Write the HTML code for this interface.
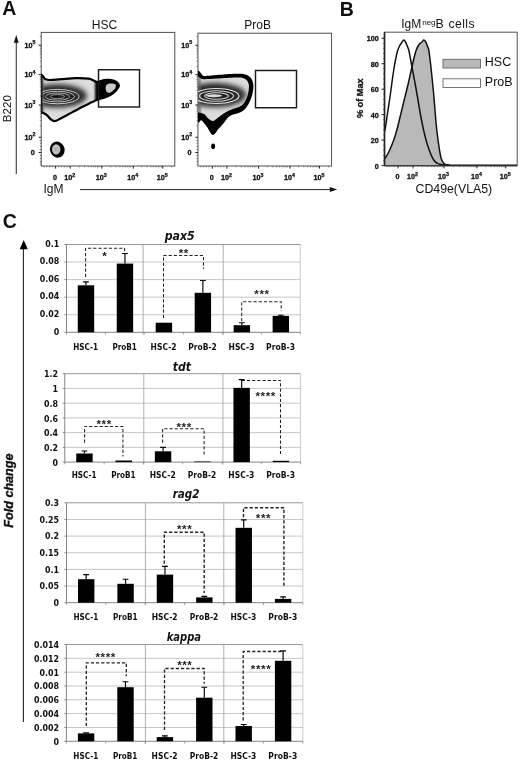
<!DOCTYPE html>
<html><head><meta charset="utf-8"><title>Figure</title>
<style>
html,body{margin:0;padding:0;background:#fff;}
svg{display:block;}
text{font-family:"Liberation Sans", Arial, sans-serif;fill:#111;}
.tk{font-family:"Liberation Sans", Arial, sans-serif;font-weight:bold;font-size:7.2px;fill:#111;stroke:#111;stroke-width:0.3px;}
.tks{font-family:"Liberation Sans", Arial, sans-serif;font-weight:bold;font-size:5.3px;fill:#111;stroke:#111;stroke-width:0.25px;}
.bl{font-family:"DejaVu Sans Condensed", "DejaVu Sans", "Liberation Sans", sans-serif;font-stretch:condensed;font-weight:bold;font-size:8.8px;fill:#111;}
.bt{font-family:"DejaVu Sans Condensed", "DejaVu Sans", "Liberation Sans", sans-serif;font-stretch:condensed;font-weight:bold;font-style:italic;font-size:12.3px;fill:#111;}
.st{font-family:"Liberation Sans", Arial, sans-serif;font-weight:bold;font-size:11.6px;fill:#222;letter-spacing:0.6px;}
</style></head><body>
<svg width="520" height="760" viewBox="0 0 520 760">
<defs>
<filter id="b4" x="-50%" y="-50%" width="200%" height="200%"><feGaussianBlur stdDeviation="3.2"/></filter>
<filter id="b3" x="-50%" y="-50%" width="200%" height="200%"><feGaussianBlur stdDeviation="2.5"/></filter>
<filter id="b2" x="-50%" y="-50%" width="200%" height="200%"><feGaussianBlur stdDeviation="1.6"/></filter>
<filter id="b1" x="-50%" y="-50%" width="200%" height="200%"><feGaussianBlur stdDeviation="0.8"/></filter>
<filter id="soft" x="-5%" y="-5%" width="110%" height="110%"><feGaussianBlur stdDeviation="0.35"/></filter>
</defs>
<rect width="520" height="760" fill="#fff"/>

<text x="2.2" y="14.6" font-size="19.5" font-weight="bold">A</text>
<text x="339.8" y="16.3" font-size="19.5" font-weight="bold">B</text>
<text x="2.8" y="228.2" font-size="19.5" font-weight="bold">C</text>
<text x="104.4" y="28.7" font-size="12" text-anchor="middle">HSC</text>
<text x="257.6" y="29.4" font-size="12" text-anchor="middle">ProB</text>
<g><rect x="41.20" y="32.40" width="133.60" height="133.60" fill="none" stroke="#505050" stroke-width="1"/><line x1="38.60" y1="45.25" x2="41.20" y2="45.25" stroke="#222" stroke-width="1"/><text class="tk" x="30.00" y="47.75" text-anchor="middle">10<tspan class="tks" dy="-3.6">5</tspan></text><line x1="38.60" y1="74.60" x2="41.20" y2="74.60" stroke="#222" stroke-width="1"/><text class="tk" x="30.00" y="77.10" text-anchor="middle">10<tspan class="tks" dy="-3.6">4</tspan></text><line x1="38.60" y1="105.00" x2="41.20" y2="105.00" stroke="#222" stroke-width="1"/><text class="tk" x="30.00" y="107.50" text-anchor="middle">10<tspan class="tks" dy="-3.6">3</tspan></text><line x1="38.60" y1="137.30" x2="41.20" y2="137.30" stroke="#222" stroke-width="1"/><text class="tk" x="30.00" y="139.80" text-anchor="middle">10<tspan class="tks" dy="-3.6">2</tspan></text><line x1="38.60" y1="152.50" x2="41.20" y2="152.50" stroke="#222" stroke-width="1"/><text class="tk" x="32.80" y="155.00" text-anchor="middle">0</text><path d="M39.80,66.47h1.4M39.80,61.19h1.4M39.80,57.44h1.4M39.80,54.53h1.4M39.80,52.16h1.4M39.80,50.15h1.4M39.80,48.41h1.4M39.80,46.87h1.4M39.80,95.97h1.4M39.80,90.69h1.4M39.80,86.94h1.4M39.80,84.03h1.4M39.80,81.66h1.4M39.80,79.65h1.4M39.80,77.91h1.4M39.80,76.37h1.4M39.80,125.97h1.4M39.80,120.69h1.4M39.80,116.94h1.4M39.80,114.03h1.4M39.80,111.66h1.4M39.80,109.65h1.4M39.80,107.91h1.4M39.80,106.37h1.4M39.80,36.47h1.4M39.80,140.50h1.4M39.80,143.50h1.4M39.80,146.50h1.4M39.80,149.50h1.4M39.80,155.50h1.4M39.80,158.50h1.4M39.80,161.50h1.4M39.80,164.00h1.4" stroke="#555" stroke-width="0.7" fill="none"/><line x1="55.60" y1="166.00" x2="55.60" y2="168.60" stroke="#222" stroke-width="1"/><text class="tk" x="55.10" y="180.30" text-anchor="middle">0</text><line x1="70.20" y1="166.00" x2="70.20" y2="168.60" stroke="#222" stroke-width="1"/><text class="tk" x="69.70" y="180.30" text-anchor="middle">10<tspan class="tks" dy="-3.6">2</tspan></text><line x1="101.80" y1="166.00" x2="101.80" y2="168.60" stroke="#222" stroke-width="1"/><text class="tk" x="101.30" y="180.30" text-anchor="middle">10<tspan class="tks" dy="-3.6">3</tspan></text><line x1="133.30" y1="166.00" x2="133.30" y2="168.60" stroke="#222" stroke-width="1"/><text class="tk" x="132.80" y="180.30" text-anchor="middle">10<tspan class="tks" dy="-3.6">4</tspan></text><line x1="162.80" y1="166.00" x2="162.80" y2="168.60" stroke="#222" stroke-width="1"/><text class="tk" x="162.30" y="180.30" text-anchor="middle">10<tspan class="tks" dy="-3.6">5</tspan></text><path d="M79.18,166.00v1.4M84.55,166.00v1.4M88.36,166.00v1.4M91.32,166.00v1.4M93.73,166.00v1.4M95.78,166.00v1.4M97.54,166.00v1.4M99.10,166.00v1.4M110.68,166.00v1.4M116.05,166.00v1.4M119.86,166.00v1.4M122.82,166.00v1.4M125.23,166.00v1.4M127.28,166.00v1.4M129.04,166.00v1.4M130.60,166.00v1.4M141.68,166.00v1.4M147.05,166.00v1.4M150.86,166.00v1.4M153.82,166.00v1.4M156.23,166.00v1.4M158.28,166.00v1.4M160.04,166.00v1.4M161.60,166.00v1.4M44.00,166.00v1.4M46.80,166.00v1.4M49.60,166.00v1.4M52.40,166.00v1.4M58.50,166.00v1.4M61.40,166.00v1.4M64.30,166.00v1.4M67.20,166.00v1.4M171.83,166.00v1.4" stroke="#555" stroke-width="0.7" fill="none"/></g>
<g><rect x="197.95" y="33.20" width="133.60" height="132.80" fill="none" stroke="#505050" stroke-width="1"/><line x1="195.35" y1="45.25" x2="197.95" y2="45.25" stroke="#222" stroke-width="1"/><text class="tk" x="186.75" y="47.75" text-anchor="middle">10<tspan class="tks" dy="-3.6">5</tspan></text><line x1="195.35" y1="74.60" x2="197.95" y2="74.60" stroke="#222" stroke-width="1"/><text class="tk" x="186.75" y="77.10" text-anchor="middle">10<tspan class="tks" dy="-3.6">4</tspan></text><line x1="195.35" y1="105.00" x2="197.95" y2="105.00" stroke="#222" stroke-width="1"/><text class="tk" x="186.75" y="107.50" text-anchor="middle">10<tspan class="tks" dy="-3.6">3</tspan></text><line x1="195.35" y1="137.30" x2="197.95" y2="137.30" stroke="#222" stroke-width="1"/><text class="tk" x="186.75" y="139.80" text-anchor="middle">10<tspan class="tks" dy="-3.6">2</tspan></text><line x1="195.35" y1="152.50" x2="197.95" y2="152.50" stroke="#222" stroke-width="1"/><text class="tk" x="189.55" y="155.00" text-anchor="middle">0</text><path d="M196.55,66.47h1.4M196.55,61.19h1.4M196.55,57.44h1.4M196.55,54.53h1.4M196.55,52.16h1.4M196.55,50.15h1.4M196.55,48.41h1.4M196.55,46.87h1.4M196.55,95.97h1.4M196.55,90.69h1.4M196.55,86.94h1.4M196.55,84.03h1.4M196.55,81.66h1.4M196.55,79.65h1.4M196.55,77.91h1.4M196.55,76.37h1.4M196.55,125.97h1.4M196.55,120.69h1.4M196.55,116.94h1.4M196.55,114.03h1.4M196.55,111.66h1.4M196.55,109.65h1.4M196.55,107.91h1.4M196.55,106.37h1.4M196.55,36.47h1.4M196.55,140.50h1.4M196.55,143.50h1.4M196.55,146.50h1.4M196.55,149.50h1.4M196.55,155.50h1.4M196.55,158.50h1.4M196.55,161.50h1.4M196.55,164.00h1.4" stroke="#555" stroke-width="0.7" fill="none"/><line x1="212.35" y1="166.00" x2="212.35" y2="168.60" stroke="#222" stroke-width="1"/><text class="tk" x="211.85" y="180.30" text-anchor="middle">0</text><line x1="226.95" y1="166.00" x2="226.95" y2="168.60" stroke="#222" stroke-width="1"/><text class="tk" x="226.45" y="180.30" text-anchor="middle">10<tspan class="tks" dy="-3.6">2</tspan></text><line x1="258.55" y1="166.00" x2="258.55" y2="168.60" stroke="#222" stroke-width="1"/><text class="tk" x="258.05" y="180.30" text-anchor="middle">10<tspan class="tks" dy="-3.6">3</tspan></text><line x1="290.05" y1="166.00" x2="290.05" y2="168.60" stroke="#222" stroke-width="1"/><text class="tk" x="289.55" y="180.30" text-anchor="middle">10<tspan class="tks" dy="-3.6">4</tspan></text><line x1="319.55" y1="166.00" x2="319.55" y2="168.60" stroke="#222" stroke-width="1"/><text class="tk" x="319.05" y="180.30" text-anchor="middle">10<tspan class="tks" dy="-3.6">5</tspan></text><path d="M235.93,166.00v1.4M241.30,166.00v1.4M245.11,166.00v1.4M248.07,166.00v1.4M250.48,166.00v1.4M252.53,166.00v1.4M254.29,166.00v1.4M255.85,166.00v1.4M267.43,166.00v1.4M272.80,166.00v1.4M276.61,166.00v1.4M279.57,166.00v1.4M281.98,166.00v1.4M284.03,166.00v1.4M285.79,166.00v1.4M287.35,166.00v1.4M298.43,166.00v1.4M303.80,166.00v1.4M307.61,166.00v1.4M310.57,166.00v1.4M312.98,166.00v1.4M315.03,166.00v1.4M316.79,166.00v1.4M318.35,166.00v1.4M200.75,166.00v1.4M203.55,166.00v1.4M206.35,166.00v1.4M209.15,166.00v1.4M215.25,166.00v1.4M218.15,166.00v1.4M221.05,166.00v1.4M223.95,166.00v1.4M328.58,166.00v1.4" stroke="#555" stroke-width="0.7" fill="none"/></g>
<text transform="translate(10.8,108.7) rotate(-90)" font-size="11.6" text-anchor="middle">B220</text>
<line x1="16.25" y1="174" x2="16.25" y2="41" stroke="#222" stroke-width="1"/>
<path d="M16.25,35 L18.7,42.8 L13.8,42.8Z" fill="#111"/>
<text x="43.4" y="193.4" font-size="12">IgM</text>
<line x1="80" y1="189.6" x2="331" y2="189.6" stroke="#222" stroke-width="1"/>
<path d="M337.2,189.6 L329.8,187.1 L329.8,192.1Z" fill="#111"/>
<clipPath id="cpH"><path d="M41.30,74.60C41.62,74.93 42.48,75.82 43.20,76.60C43.92,77.38 44.47,78.73 45.60,79.30C46.73,79.87 47.43,80.02 50.00,80.00C52.57,79.98 56.67,79.52 61.00,79.20C65.33,78.88 71.42,78.20 76.00,78.10C80.58,78.00 85.67,78.25 88.50,78.60C91.33,78.95 91.67,79.67 93.00,80.20C94.33,80.73 95.33,81.62 96.50,81.80C97.67,81.98 98.75,81.57 100.00,81.30C101.25,81.03 102.83,80.43 104.00,80.20C105.17,79.97 105.83,79.93 107.00,79.90C108.17,79.87 109.73,79.83 111.00,80.00C112.27,80.17 113.50,80.40 114.60,80.90C115.70,81.40 116.90,82.28 117.60,83.00C118.30,83.72 118.70,84.43 118.80,85.20C118.90,85.97 118.67,86.73 118.20,87.60C117.73,88.47 116.87,89.48 116.00,90.40C115.13,91.32 113.90,92.37 113.00,93.10C112.10,93.83 111.60,94.23 110.60,94.80C109.60,95.37 108.10,96.02 107.00,96.50C105.90,96.98 105.08,97.33 104.00,97.70C102.92,98.07 101.58,98.37 100.50,98.70C99.42,99.03 98.58,99.28 97.50,99.70C96.42,100.12 95.08,100.72 94.00,101.20C92.92,101.68 93.38,101.43 91.00,102.60C88.62,103.77 83.71,106.13 79.75,108.20C75.79,110.27 70.38,113.33 67.25,115.00C64.12,116.67 63.08,117.17 61.00,118.20C58.92,119.23 56.48,121.03 54.75,121.20C53.02,121.37 51.83,120.13 50.60,119.20C49.38,118.27 48.50,116.60 47.40,115.60C46.30,114.60 45.02,113.70 44.00,113.20C42.98,112.70 41.75,112.70 41.30,112.60Z"/></clipPath>
<clipPath id="cpA1"><rect x="41.2" y="32" width="133.75" height="134"/></clipPath>
<g clip-path="url(#cpA1)">
<path d="M41.30,74.60C41.62,74.93 42.48,75.82 43.20,76.60C43.92,77.38 44.47,78.73 45.60,79.30C46.73,79.87 47.43,80.02 50.00,80.00C52.57,79.98 56.67,79.52 61.00,79.20C65.33,78.88 71.42,78.20 76.00,78.10C80.58,78.00 85.67,78.25 88.50,78.60C91.33,78.95 91.67,79.67 93.00,80.20C94.33,80.73 95.33,81.62 96.50,81.80C97.67,81.98 98.75,81.57 100.00,81.30C101.25,81.03 102.83,80.43 104.00,80.20C105.17,79.97 105.83,79.93 107.00,79.90C108.17,79.87 109.73,79.83 111.00,80.00C112.27,80.17 113.50,80.40 114.60,80.90C115.70,81.40 116.90,82.28 117.60,83.00C118.30,83.72 118.70,84.43 118.80,85.20C118.90,85.97 118.67,86.73 118.20,87.60C117.73,88.47 116.87,89.48 116.00,90.40C115.13,91.32 113.90,92.37 113.00,93.10C112.10,93.83 111.60,94.23 110.60,94.80C109.60,95.37 108.10,96.02 107.00,96.50C105.90,96.98 105.08,97.33 104.00,97.70C102.92,98.07 101.58,98.37 100.50,98.70C99.42,99.03 98.58,99.28 97.50,99.70C96.42,100.12 95.08,100.72 94.00,101.20C92.92,101.68 93.38,101.43 91.00,102.60C88.62,103.77 83.71,106.13 79.75,108.20C75.79,110.27 70.38,113.33 67.25,115.00C64.12,116.67 63.08,117.17 61.00,118.20C58.92,119.23 56.48,121.03 54.75,121.20C53.02,121.37 51.83,120.13 50.60,119.20C49.38,118.27 48.50,116.60 47.40,115.60C46.30,114.60 45.02,113.70 44.00,113.20C42.98,112.70 41.75,112.70 41.30,112.60Z" fill="#dcdcdc"/>
<g clip-path="url(#cpH)">
<ellipse cx="57" cy="95.8" rx="30" ry="11.8" fill="#2e2e2e" filter="url(#b3)"/>
<ellipse cx="55" cy="96" rx="20" ry="7" fill="#222" filter="url(#b2)"/>
<path d="M95,70 H125 V110 H95Z" fill="#000" filter="url(#b1)"/>
<path d="M41,72 L41,116 L43.5,116 L43.5,72Z" fill="#666" filter="url(#b1)"/>
<ellipse cx="57.5" cy="96.6" rx="21.5" ry="7.2" fill="none" stroke="#d6d6d6" stroke-width="0.95"/>
<ellipse cx="57.5" cy="96.6" rx="17.0" ry="5.3" fill="none" stroke="#c2c2c2" stroke-width="0.95"/>
<ellipse cx="57.5" cy="96.6" rx="12.0" ry="3.6" fill="none" stroke="#b0b0b0" stroke-width="0.95"/>
<ellipse cx="57.5" cy="96.6" rx="7.0" ry="2.1" fill="none" stroke="#a0a0a0" stroke-width="0.95"/>
<ellipse cx="55" cy="96.6" rx="3" ry="0.9" fill="#111"/>
<path d="M106.50,85.00C106.97,84.45 107.58,83.97 108.50,83.70C109.42,83.43 110.92,83.33 112.00,83.40C113.08,83.47 114.35,83.70 115.00,84.10C115.65,84.50 115.85,85.15 115.90,85.80C115.95,86.45 115.70,87.25 115.30,88.00C114.90,88.75 114.22,89.60 113.50,90.30C112.78,91.00 111.83,91.78 111.00,92.20C110.17,92.62 109.25,92.87 108.50,92.80C107.75,92.73 106.95,92.33 106.50,91.80C106.05,91.27 105.93,90.40 105.80,89.60C105.67,88.80 105.58,87.77 105.70,87.00C105.82,86.23 106.03,85.55 106.50,85.00Z" fill="#c9c9c9" filter="url(#soft)"/>
</g>
<path d="M41.30,74.60C41.62,74.93 42.48,75.82 43.20,76.60C43.92,77.38 44.47,78.73 45.60,79.30C46.73,79.87 47.43,80.02 50.00,80.00C52.57,79.98 56.67,79.52 61.00,79.20C65.33,78.88 71.42,78.20 76.00,78.10C80.58,78.00 85.67,78.25 88.50,78.60C91.33,78.95 91.67,79.67 93.00,80.20C94.33,80.73 95.33,81.62 96.50,81.80C97.67,81.98 98.75,81.57 100.00,81.30C101.25,81.03 102.83,80.43 104.00,80.20C105.17,79.97 105.83,79.93 107.00,79.90C108.17,79.87 109.73,79.83 111.00,80.00C112.27,80.17 113.50,80.40 114.60,80.90C115.70,81.40 116.90,82.28 117.60,83.00C118.30,83.72 118.70,84.43 118.80,85.20C118.90,85.97 118.67,86.73 118.20,87.60C117.73,88.47 116.87,89.48 116.00,90.40C115.13,91.32 113.90,92.37 113.00,93.10C112.10,93.83 111.60,94.23 110.60,94.80C109.60,95.37 108.10,96.02 107.00,96.50C105.90,96.98 105.08,97.33 104.00,97.70C102.92,98.07 101.58,98.37 100.50,98.70C99.42,99.03 98.58,99.28 97.50,99.70C96.42,100.12 95.08,100.72 94.00,101.20C92.92,101.68 93.38,101.43 91.00,102.60C88.62,103.77 83.71,106.13 79.75,108.20C75.79,110.27 70.38,113.33 67.25,115.00C64.12,116.67 63.08,117.17 61.00,118.20C58.92,119.23 56.48,121.03 54.75,121.20C53.02,121.37 51.83,120.13 50.60,119.20C49.38,118.27 48.50,116.60 47.40,115.60C46.30,114.60 45.02,113.70 44.00,113.20C42.98,112.70 41.75,112.70 41.30,112.60Z" fill="none" stroke="#000" stroke-width="2.2" stroke-linejoin="round"/>
<ellipse cx="57.3" cy="149.6" rx="7.3" ry="8.1" fill="#000" transform="rotate(-20 57.3 149.6)"/>
<ellipse cx="56.2" cy="149.4" rx="4.2" ry="5.2" fill="#c4c4c4" filter="url(#soft)"/>
<ellipse cx="56" cy="149.4" rx="2" ry="2.6" fill="#aaa" filter="url(#b1)"/>
</g>
<rect x="98.5" y="69.75" width="41" height="37.25" fill="none" stroke="#1a1a1a" stroke-width="1.45"/>
<clipPath id="cpP"><path d="M197.50,76.00C197.92,76.33 198.92,77.47 200.00,78.00C201.08,78.53 201.17,79.10 204.00,79.20C206.83,79.30 211.71,78.87 217.00,78.60C222.29,78.33 231.42,77.70 235.75,77.60C240.08,77.50 241.12,77.50 243.00,78.00C244.88,78.50 246.02,79.35 247.00,80.60C247.98,81.85 248.70,83.43 248.90,85.50C249.10,87.57 248.77,90.50 248.20,93.00C247.63,95.50 246.62,98.42 245.50,100.50C244.38,102.58 243.12,104.25 241.50,105.50C239.88,106.75 237.75,107.22 235.75,108.00C233.75,108.78 231.58,109.23 229.50,110.20C227.42,111.17 225.12,112.57 223.25,113.80C221.38,115.03 219.92,116.40 218.25,117.60C216.58,118.80 214.92,120.85 213.25,121.00C211.58,121.15 209.71,119.63 208.25,118.50C206.79,117.37 205.96,115.22 204.50,114.20C203.04,113.18 200.67,112.73 199.50,112.40C198.33,112.07 197.83,112.23 197.50,112.20Z"/></clipPath>
<clipPath id="cpA2"><rect x="198" y="32" width="133.75" height="133.5"/></clipPath>
<g clip-path="url(#cpA2)">
<path d="M197.50,70.60C197.85,70.73 198.93,70.83 199.60,71.40C200.27,71.97 200.83,73.23 201.50,74.00C202.17,74.77 202.52,75.70 203.60,76.00C204.68,76.30 205.77,75.97 208.00,75.80C210.23,75.63 212.38,75.33 217.00,75.00C221.62,74.67 231.17,73.93 235.75,73.80C240.33,73.67 242.03,73.57 244.50,74.20C246.97,74.83 249.13,75.84 250.60,77.60C252.07,79.36 253.03,81.89 253.30,84.75C253.57,87.61 253.08,91.38 252.20,94.75C251.32,98.12 249.53,102.33 248.00,105.00C246.47,107.67 244.58,109.47 243.00,110.80C241.42,112.13 240.75,112.10 238.50,113.00C236.25,113.90 232.02,114.47 229.50,116.20C226.98,117.93 225.25,121.27 223.40,123.40C221.55,125.53 220.17,127.07 218.40,129.00C216.63,130.93 214.67,135.30 212.80,135.00C210.93,134.70 209.07,129.63 207.20,127.20C205.33,124.77 202.87,121.30 201.60,120.40C200.33,119.50 200.28,121.30 199.60,121.80C198.92,122.30 197.85,123.13 197.50,123.40Z" fill="#000"/>
<path d="M197.50,76.00C197.92,76.33 198.92,77.47 200.00,78.00C201.08,78.53 201.17,79.10 204.00,79.20C206.83,79.30 211.71,78.87 217.00,78.60C222.29,78.33 231.42,77.70 235.75,77.60C240.08,77.50 241.12,77.50 243.00,78.00C244.88,78.50 246.02,79.35 247.00,80.60C247.98,81.85 248.70,83.43 248.90,85.50C249.10,87.57 248.77,90.50 248.20,93.00C247.63,95.50 246.62,98.42 245.50,100.50C244.38,102.58 243.12,104.25 241.50,105.50C239.88,106.75 237.75,107.22 235.75,108.00C233.75,108.78 231.58,109.23 229.50,110.20C227.42,111.17 225.12,112.57 223.25,113.80C221.38,115.03 219.92,116.40 218.25,117.60C216.58,118.80 214.92,120.85 213.25,121.00C211.58,121.15 209.71,119.63 208.25,118.50C206.79,117.37 205.96,115.22 204.50,114.20C203.04,113.18 200.67,112.73 199.50,112.40C198.33,112.07 197.83,112.23 197.50,112.20Z" fill="#dcdcdc"/>
<g clip-path="url(#cpP)">
<ellipse cx="215" cy="95" rx="31" ry="12.2" fill="#2e2e2e" filter="url(#b3)"/>
<ellipse cx="213" cy="95" rx="21" ry="7.5" fill="#222" filter="url(#b2)"/>
<path d="M198,72 L198,116 L200.5,116 L200.5,72Z" fill="#666" filter="url(#b1)"/>
<ellipse cx="216.5" cy="96" rx="22.5" ry="7.5" fill="none" stroke="#e4e4e4" stroke-width="1.1"/>
<ellipse cx="216.5" cy="96" rx="17.0" ry="5.2" fill="none" stroke="#d6d6d6" stroke-width="1.1"/>
<ellipse cx="216.5" cy="96" rx="12.0" ry="3.3" fill="none" stroke="#cfcfcf" stroke-width="1.1"/>
<ellipse cx="214" cy="95.8" rx="8" ry="1.5" fill="#ddd" filter="url(#soft)"/>
</g>
<ellipse cx="213.1" cy="146.2" rx="2" ry="2.8" fill="#000"/>
</g>
<rect x="255.5" y="70.5" width="41" height="37.25" fill="none" stroke="#1a1a1a" stroke-width="1.45"/>
<text x="401.2" y="28.2" font-size="12">IgM<tspan x="422.2" font-size="8" dy="-3.1">neg</tspan><tspan x="435.6" dy="3.1" font-size="12.2" word-spacing="0.6" letter-spacing="0.4">B cells</tspan></text>
<clipPath id="cpB"><rect x="384.50" y="32.20" width="132.70" height="133.60"/></clipPath>
<g clip-path="url(#cpB)">
<path d="M384.80,158.80C385.50,157.58 387.51,154.63 389.00,151.50C390.49,148.37 392.42,143.67 393.75,140.00C395.08,136.33 395.96,133.30 397.00,129.50C398.04,125.70 399.00,121.28 400.00,117.20C401.00,113.12 402.03,108.95 403.00,105.00C403.97,101.05 404.87,97.33 405.80,93.50C406.73,89.67 407.69,85.92 408.60,82.00C409.51,78.08 410.35,74.00 411.25,70.00C412.15,66.00 413.17,61.33 414.00,58.00C414.83,54.67 415.42,52.25 416.25,50.00C417.08,47.75 418.12,45.75 419.00,44.50C419.88,43.25 420.71,43.25 421.50,42.50C422.29,41.75 423.08,40.17 423.75,40.00C424.42,39.83 424.96,40.67 425.50,41.50C426.04,42.33 426.46,43.58 427.00,45.00C427.54,46.42 428.25,47.67 428.75,50.00C429.25,52.33 429.58,55.67 430.00,59.00C430.42,62.33 430.83,66.17 431.25,70.00C431.67,73.83 432.08,77.83 432.50,82.00C432.92,86.17 433.33,90.33 433.75,95.00C434.17,99.67 434.58,105.00 435.00,110.00C435.42,115.00 435.83,120.67 436.25,125.00C436.67,129.33 437.08,132.67 437.50,136.00C437.92,139.33 438.33,142.17 438.75,145.00C439.17,147.83 439.58,150.71 440.00,153.00C440.42,155.29 440.67,157.08 441.25,158.75C441.83,160.42 442.67,161.99 443.50,163.00C444.33,164.01 444.83,164.43 446.25,164.80C447.67,165.17 448.04,165.12 452.00,165.20C455.96,165.28 459.17,165.28 470.00,165.30C480.83,165.32 509.17,165.30 517.00,165.30 L517,165.8 L384.8,165.8 Z" fill="#b9b9b9"/>
<path d="M384.80,158.80C385.50,157.58 387.51,154.63 389.00,151.50C390.49,148.37 392.42,143.67 393.75,140.00C395.08,136.33 395.96,133.30 397.00,129.50C398.04,125.70 399.00,121.28 400.00,117.20C401.00,113.12 402.03,108.95 403.00,105.00C403.97,101.05 404.87,97.33 405.80,93.50C406.73,89.67 407.69,85.92 408.60,82.00C409.51,78.08 410.35,74.00 411.25,70.00C412.15,66.00 413.17,61.33 414.00,58.00C414.83,54.67 415.42,52.25 416.25,50.00C417.08,47.75 418.12,45.75 419.00,44.50C419.88,43.25 420.71,43.25 421.50,42.50C422.29,41.75 423.08,40.17 423.75,40.00C424.42,39.83 424.96,40.67 425.50,41.50C426.04,42.33 426.46,43.58 427.00,45.00C427.54,46.42 428.25,47.67 428.75,50.00C429.25,52.33 429.58,55.67 430.00,59.00C430.42,62.33 430.83,66.17 431.25,70.00C431.67,73.83 432.08,77.83 432.50,82.00C432.92,86.17 433.33,90.33 433.75,95.00C434.17,99.67 434.58,105.00 435.00,110.00C435.42,115.00 435.83,120.67 436.25,125.00C436.67,129.33 437.08,132.67 437.50,136.00C437.92,139.33 438.33,142.17 438.75,145.00C439.17,147.83 439.58,150.71 440.00,153.00C440.42,155.29 440.67,157.08 441.25,158.75C441.83,160.42 442.67,161.99 443.50,163.00C444.33,164.01 444.83,164.43 446.25,164.80C447.67,165.17 448.04,165.12 452.00,165.20C455.96,165.28 459.17,165.28 470.00,165.30C480.83,165.32 509.17,165.30 517.00,165.30" fill="none" stroke="#111" stroke-width="1.5"/>
<path d="M384.80,131.00C385.00,129.83 385.47,127.50 386.00,124.00C386.53,120.50 387.33,114.50 388.00,110.00C388.67,105.50 389.33,101.67 390.00,97.00C390.67,92.33 391.38,86.50 392.00,82.00C392.62,77.50 393.17,73.67 393.75,70.00C394.33,66.33 394.88,63.17 395.50,60.00C396.12,56.83 396.83,53.33 397.50,51.00C398.17,48.67 398.83,47.33 399.50,46.00C400.17,44.67 400.79,44.00 401.50,43.00C402.21,42.00 403.08,40.17 403.75,40.00C404.42,39.83 404.96,41.08 405.50,42.00C406.04,42.92 406.46,44.17 407.00,45.50C407.54,46.83 408.17,47.75 408.75,50.00C409.33,52.25 409.88,55.67 410.50,59.00C411.12,62.33 411.75,66.00 412.50,70.00C413.25,74.00 414.17,78.50 415.00,83.00C415.83,87.50 416.67,92.17 417.50,97.00C418.33,101.83 419.17,107.33 420.00,112.00C420.83,116.67 421.67,121.00 422.50,125.00C423.33,129.00 424.17,132.67 425.00,136.00C425.83,139.33 426.58,142.08 427.50,145.00C428.42,147.92 429.46,151.00 430.50,153.50C431.54,156.00 432.67,158.38 433.75,160.00C434.83,161.62 435.54,162.40 437.00,163.20C438.46,164.00 440.33,164.47 442.50,164.80C444.67,165.13 448.75,165.13 450.00,165.20" fill="none" stroke="#111" stroke-width="1.5"/>
</g>
<rect x="384.50" y="32.20" width="132.70" height="133.60" fill="none" stroke="#555" stroke-width="1"/>
<path d="M384.50,32.20V165.80" fill="none" stroke="#222" stroke-width="1.7"/>
<path d="M384.50,165.80H517.20" fill="none" stroke="#222" stroke-width="1.1"/>
<line x1="381.50" y1="38.25" x2="384.50" y2="38.25" stroke="#222" stroke-width="1"/>
<text class="tk" x="378.80" y="41.25" text-anchor="end">100</text>
<line x1="381.50" y1="63.70" x2="384.50" y2="63.70" stroke="#222" stroke-width="1"/>
<text class="tk" x="378.80" y="66.70" text-anchor="end">80</text>
<line x1="381.50" y1="89.15" x2="384.50" y2="89.15" stroke="#222" stroke-width="1"/>
<text class="tk" x="378.80" y="92.15" text-anchor="end">60</text>
<line x1="381.50" y1="114.60" x2="384.50" y2="114.60" stroke="#222" stroke-width="1"/>
<text class="tk" x="378.80" y="117.60" text-anchor="end">40</text>
<line x1="381.50" y1="140.05" x2="384.50" y2="140.05" stroke="#222" stroke-width="1"/>
<text class="tk" x="378.80" y="143.05" text-anchor="end">20</text>
<line x1="381.50" y1="165.50" x2="384.50" y2="165.50" stroke="#222" stroke-width="1"/>
<text class="tk" x="378.80" y="168.50" text-anchor="end">0</text>
<path d="M383.00,38.25h1.5M383.00,43.34h1.5M383.00,48.43h1.5M383.00,53.52h1.5M383.00,58.61h1.5M383.00,63.70h1.5M383.00,68.79h1.5M383.00,73.88h1.5M383.00,78.97h1.5M383.00,84.06h1.5M383.00,89.15h1.5M383.00,94.24h1.5M383.00,99.33h1.5M383.00,104.42h1.5M383.00,109.51h1.5M383.00,114.60h1.5M383.00,119.69h1.5M383.00,124.78h1.5M383.00,129.87h1.5M383.00,134.96h1.5M383.00,140.05h1.5M383.00,145.14h1.5M383.00,150.23h1.5M383.00,155.32h1.5M383.00,160.41h1.5M383.00,165.50h1.5" stroke="#444" stroke-width="0.7" fill="none"/>
<text class="tk" transform="translate(362.6,98.2) rotate(-90)" text-anchor="middle" style="font-size:9.2px">% of Max</text>
<line x1="398.00" y1="165.80" x2="398.00" y2="168.40" stroke="#222" stroke-width="1"/>
<text class="tk" x="397.50" y="179.20" text-anchor="middle">0</text>
<line x1="413.00" y1="165.80" x2="413.00" y2="168.40" stroke="#222" stroke-width="1"/>
<text class="tk" x="412.50" y="179.20" text-anchor="middle">10<tspan class="tks" dy="-3.6">2</tspan></text>
<line x1="444.00" y1="165.80" x2="444.00" y2="168.40" stroke="#222" stroke-width="1"/>
<text class="tk" x="443.50" y="179.20" text-anchor="middle">10<tspan class="tks" dy="-3.6">3</tspan></text>
<line x1="477.00" y1="165.80" x2="477.00" y2="168.40" stroke="#222" stroke-width="1"/>
<text class="tk" x="476.50" y="179.20" text-anchor="middle">10<tspan class="tks" dy="-3.6">4</tspan></text>
<line x1="505.80" y1="165.80" x2="505.80" y2="168.40" stroke="#222" stroke-width="1"/>
<text class="tk" x="505.30" y="179.20" text-anchor="middle">10<tspan class="tks" dy="-3.6">5</tspan></text>
<path d="M422.33,165.80v1.4M427.79,165.80v1.4M431.66,165.80v1.4M434.67,165.80v1.4M437.12,165.80v1.4M439.20,165.80v1.4M441.00,165.80v1.4M442.58,165.80v1.4M453.93,165.80v1.4M459.75,165.80v1.4M463.87,165.80v1.4M467.07,165.80v1.4M469.68,165.80v1.4M471.89,165.80v1.4M473.80,165.80v1.4M475.49,165.80v1.4M485.73,165.80v1.4M490.84,165.80v1.4M494.46,165.80v1.4M497.27,165.80v1.4M499.57,165.80v1.4M501.51,165.80v1.4M503.19,165.80v1.4M504.67,165.80v1.4M387.00,165.80v1.4M389.50,165.80v1.4M392.00,165.80v1.4M394.50,165.80v1.4M401.00,165.80v1.4M404.00,165.80v1.4M407.00,165.80v1.4M410.00,165.80v1.4" stroke="#555" stroke-width="0.7" fill="none"/>
<text x="415.6" y="193.2" font-size="12.3">CD49e(VLA5)</text>
<rect x="443" y="59.3" width="37.5" height="8.7" fill="#b9b9b9" stroke="#666" stroke-width="0.9"/>
<rect x="443" y="78.8" width="37.5" height="8.7" fill="#fff" stroke="#666" stroke-width="0.9"/>
<text x="484.8" y="66.4" font-size="12.5">HSC</text>
<text x="484.8" y="86.4" font-size="12.5">ProB</text>
<text transform="translate(12.5,490.6) rotate(-90)" font-size="12.6" font-weight="bold" font-style="italic" text-anchor="middle" stroke="#111" stroke-width="0.35">Fold change</text>
<line x1="23.4" y1="722" x2="23.4" y2="247" stroke="#222" stroke-width="1.1"/>
<path d="M23.7,240 L27.8,249.2 L19.7,249.2Z" fill="#000"/>
<g><line x1="64.30" y1="332.30" x2="66.50" y2="332.30" stroke="#777" stroke-width="0.8"/><text class="bl" x="59.30" y="334.60" text-anchor="end">0</text><line x1="66.50" y1="314.74" x2="300.30" y2="314.74" stroke="#c0c0c0" stroke-width="0.9"/><line x1="64.30" y1="314.74" x2="66.50" y2="314.74" stroke="#777" stroke-width="0.8"/><text class="bl" x="59.30" y="317.04" text-anchor="end">0.02</text><line x1="66.50" y1="297.18" x2="300.30" y2="297.18" stroke="#c0c0c0" stroke-width="0.9"/><line x1="64.30" y1="297.18" x2="66.50" y2="297.18" stroke="#777" stroke-width="0.8"/><text class="bl" x="59.30" y="299.48" text-anchor="end">0.04</text><line x1="66.50" y1="279.62" x2="300.30" y2="279.62" stroke="#c0c0c0" stroke-width="0.9"/><line x1="64.30" y1="279.62" x2="66.50" y2="279.62" stroke="#777" stroke-width="0.8"/><text class="bl" x="59.30" y="281.92" text-anchor="end">0.06</text><line x1="66.50" y1="262.06" x2="300.30" y2="262.06" stroke="#c0c0c0" stroke-width="0.9"/><line x1="64.30" y1="262.06" x2="66.50" y2="262.06" stroke="#777" stroke-width="0.8"/><text class="bl" x="59.30" y="264.36" text-anchor="end">0.08</text><line x1="66.50" y1="244.50" x2="300.30" y2="244.50" stroke="#8c8c8c" stroke-width="0.9"/><line x1="64.30" y1="244.50" x2="66.50" y2="244.50" stroke="#777" stroke-width="0.8"/><text class="bl" x="59.30" y="246.80" text-anchor="end">0.1</text><line x1="300.30" y1="244.50" x2="300.30" y2="332.30" stroke="#bdbdbd" stroke-width="0.8"/><line x1="143.10" y1="244.50" x2="143.10" y2="334.80" stroke="#9a9a9a" stroke-width="0.8"/><line x1="223.20" y1="244.50" x2="223.20" y2="334.80" stroke="#9a9a9a" stroke-width="0.8"/><line x1="66.50" y1="244.50" x2="66.50" y2="332.30" stroke="#777" stroke-width="0.9"/><line x1="66.50" y1="332.30" x2="300.30" y2="332.30" stroke="#777" stroke-width="0.9"/><line x1="66.50" y1="332.30" x2="66.50" y2="334.50" stroke="#888" stroke-width="0.8"/><line x1="105.47" y1="332.30" x2="105.47" y2="334.50" stroke="#888" stroke-width="0.8"/><line x1="144.43" y1="332.30" x2="144.43" y2="334.50" stroke="#888" stroke-width="0.8"/><line x1="183.40" y1="332.30" x2="183.40" y2="334.50" stroke="#888" stroke-width="0.8"/><line x1="222.37" y1="332.30" x2="222.37" y2="334.50" stroke="#888" stroke-width="0.8"/><line x1="261.33" y1="332.30" x2="261.33" y2="334.50" stroke="#888" stroke-width="0.8"/><line x1="300.30" y1="332.30" x2="300.30" y2="334.50" stroke="#888" stroke-width="0.8"/><rect x="77.78" y="285.30" width="16.40" height="47.00" fill="#000"/><path d="M85.98,285.30V281.80M83.08,281.80h5.8" stroke="#000" stroke-width="1.15" fill="none"/><text class="bl" x="73.18" y="349.70" textLength="25.0" lengthAdjust="spacingAndGlyphs">HSC-1</text><rect x="116.75" y="263.60" width="16.40" height="68.70" fill="#000"/><path d="M124.95,263.60V253.50M122.05,253.50h5.8" stroke="#000" stroke-width="1.15" fill="none"/><text class="bl" x="112.40" y="349.70" textLength="24.5" lengthAdjust="spacingAndGlyphs">ProB1</text><rect x="155.72" y="322.70" width="16.40" height="9.60" fill="#000"/><text class="bl" x="150.62" y="349.70" textLength="26.0" lengthAdjust="spacingAndGlyphs">HSC-2</text><rect x="194.68" y="292.80" width="16.40" height="39.50" fill="#000"/><path d="M202.88,292.80V280.50M199.98,280.50h5.8" stroke="#000" stroke-width="1.15" fill="none"/><text class="bl" x="188.33" y="349.70" textLength="28.5" lengthAdjust="spacingAndGlyphs">ProB-2</text><rect x="233.65" y="325.20" width="16.40" height="7.10" fill="#000"/><path d="M241.85,325.20V322.70M238.95,322.70h5.8" stroke="#000" stroke-width="1.15" fill="none"/><text class="bl" x="228.55" y="349.70" textLength="26.0" lengthAdjust="spacingAndGlyphs">HSC-3</text><rect x="272.62" y="315.90" width="16.40" height="16.40" fill="#000"/><path d="M280.82,315.90V315.20M277.92,315.20h5.8" stroke="#000" stroke-width="1.15" fill="none"/><text class="bl" x="266.07" y="349.70" textLength="28.9" lengthAdjust="spacingAndGlyphs">ProB-3</text><path d="M85.60,277.00V248.20H124.60V252.50" fill="none" stroke="#222" stroke-width="1.05" stroke-dasharray="3.2,2" stroke-linejoin="round"/><text class="st" x="104.90" y="260.00" text-anchor="middle">*</text><path d="M163.50,318.00V255.50H203.50V269.00" fill="none" stroke="#222" stroke-width="1.05" stroke-dasharray="3.2,2" stroke-linejoin="round"/><text class="st" x="183.80" y="257.35" text-anchor="middle">**</text><path d="M241.70,321.20V301.80H281.20V311.00" fill="none" stroke="#222" stroke-width="1.05" stroke-dasharray="3.2,2" stroke-linejoin="round"/><text class="st" x="262.00" y="298.10" text-anchor="middle">***</text><text class="bt" x="164.70" y="240.40" textLength="30.0" lengthAdjust="spacingAndGlyphs">pax5</text></g>
<g><line x1="62.60" y1="462.10" x2="64.80" y2="462.10" stroke="#777" stroke-width="0.8"/><text class="bl" x="57.95" y="465.70" text-anchor="end">0</text><line x1="64.80" y1="447.37" x2="300.60" y2="447.37" stroke="#c0c0c0" stroke-width="0.9"/><line x1="62.60" y1="447.37" x2="64.80" y2="447.37" stroke="#777" stroke-width="0.8"/><text class="bl" x="57.95" y="450.97" text-anchor="end">0.2</text><line x1="64.80" y1="432.63" x2="300.60" y2="432.63" stroke="#c0c0c0" stroke-width="0.9"/><line x1="62.60" y1="432.63" x2="64.80" y2="432.63" stroke="#777" stroke-width="0.8"/><text class="bl" x="57.95" y="436.23" text-anchor="end">0.4</text><line x1="64.80" y1="417.90" x2="300.60" y2="417.90" stroke="#c0c0c0" stroke-width="0.9"/><line x1="62.60" y1="417.90" x2="64.80" y2="417.90" stroke="#777" stroke-width="0.8"/><text class="bl" x="57.95" y="421.50" text-anchor="end">0.6</text><line x1="64.80" y1="403.17" x2="300.60" y2="403.17" stroke="#c0c0c0" stroke-width="0.9"/><line x1="62.60" y1="403.17" x2="64.80" y2="403.17" stroke="#777" stroke-width="0.8"/><text class="bl" x="57.95" y="406.77" text-anchor="end">0.8</text><line x1="64.80" y1="388.43" x2="300.60" y2="388.43" stroke="#c0c0c0" stroke-width="0.9"/><line x1="62.60" y1="388.43" x2="64.80" y2="388.43" stroke="#777" stroke-width="0.8"/><text class="bl" x="57.95" y="392.03" text-anchor="end">1</text><line x1="64.80" y1="373.70" x2="300.60" y2="373.70" stroke="#8c8c8c" stroke-width="0.9"/><line x1="62.60" y1="373.70" x2="64.80" y2="373.70" stroke="#777" stroke-width="0.8"/><text class="bl" x="57.95" y="377.30" text-anchor="end">1.2</text><line x1="300.60" y1="373.70" x2="300.60" y2="462.10" stroke="#bdbdbd" stroke-width="0.8"/><line x1="143.80" y1="373.70" x2="143.80" y2="464.60" stroke="#9a9a9a" stroke-width="0.8"/><line x1="222.90" y1="373.70" x2="222.90" y2="464.60" stroke="#9a9a9a" stroke-width="0.8"/><line x1="64.80" y1="373.70" x2="64.80" y2="462.10" stroke="#777" stroke-width="0.9"/><line x1="64.80" y1="462.10" x2="300.60" y2="462.10" stroke="#777" stroke-width="0.9"/><line x1="64.80" y1="462.10" x2="64.80" y2="464.30" stroke="#888" stroke-width="0.8"/><line x1="104.10" y1="462.10" x2="104.10" y2="464.30" stroke="#888" stroke-width="0.8"/><line x1="143.40" y1="462.10" x2="143.40" y2="464.30" stroke="#888" stroke-width="0.8"/><line x1="182.70" y1="462.10" x2="182.70" y2="464.30" stroke="#888" stroke-width="0.8"/><line x1="222.00" y1="462.10" x2="222.00" y2="464.30" stroke="#888" stroke-width="0.8"/><line x1="261.30" y1="462.10" x2="261.30" y2="464.30" stroke="#888" stroke-width="0.8"/><line x1="300.60" y1="462.10" x2="300.60" y2="464.30" stroke="#888" stroke-width="0.8"/><rect x="76.25" y="453.50" width="16.40" height="8.60" fill="#000"/><path d="M84.45,453.50V451.00M81.55,451.00h5.8" stroke="#000" stroke-width="1.15" fill="none"/><text class="bl" x="71.65" y="477.50" textLength="25.0" lengthAdjust="spacingAndGlyphs">HSC-1</text><rect x="115.55" y="460.50" width="16.40" height="1.60" fill="#000"/><text class="bl" x="111.20" y="477.50" textLength="24.5" lengthAdjust="spacingAndGlyphs">ProB1</text><rect x="154.85" y="451.30" width="16.40" height="10.80" fill="#000"/><path d="M163.05,451.30V447.30M160.15,447.30h5.8" stroke="#000" stroke-width="1.15" fill="none"/><text class="bl" x="149.75" y="477.50" textLength="26.0" lengthAdjust="spacingAndGlyphs">HSC-2</text><rect x="194.15" y="461.50" width="16.40" height="0.60" fill="#000"/><text class="bl" x="187.80" y="477.50" textLength="28.5" lengthAdjust="spacingAndGlyphs">ProB-2</text><rect x="233.45" y="387.90" width="16.40" height="74.20" fill="#000"/><path d="M241.65,387.90V379.60M238.75,379.60h5.8" stroke="#000" stroke-width="1.15" fill="none"/><text class="bl" x="228.35" y="477.50" textLength="26.0" lengthAdjust="spacingAndGlyphs">HSC-3</text><rect x="272.75" y="460.80" width="16.40" height="1.30" fill="#000"/><text class="bl" x="266.20" y="477.50" textLength="28.9" lengthAdjust="spacingAndGlyphs">ProB-3</text><path d="M84.60,442.70V426.40H122.90V456.50" fill="none" stroke="#222" stroke-width="1.05" stroke-dasharray="3.2,2" stroke-linejoin="round"/><text class="st" x="104.10" y="428.30" text-anchor="middle">***</text><path d="M162.60,442.70V428.80H204.10V456.00" fill="none" stroke="#222" stroke-width="1.05" stroke-dasharray="3.2,2" stroke-linejoin="round"/><text class="st" x="184.10" y="430.80" text-anchor="middle">***</text><path d="M241.70,380.50V380.50H280.50V454.50" fill="none" stroke="#222" stroke-width="1.05" stroke-dasharray="3.2,2" stroke-linejoin="round"/><text class="st" x="265.70" y="400.00" text-anchor="middle">****</text><text class="bt" x="172.70" y="371.00" textLength="18.2" lengthAdjust="spacingAndGlyphs">tdt</text></g>
<g><line x1="64.30" y1="602.70" x2="66.50" y2="602.70" stroke="#777" stroke-width="0.8"/><text class="bl" x="58.95" y="605.85" text-anchor="end">0</text><line x1="66.50" y1="586.05" x2="302.80" y2="586.05" stroke="#c0c0c0" stroke-width="0.9"/><line x1="64.30" y1="586.05" x2="66.50" y2="586.05" stroke="#777" stroke-width="0.8"/><text class="bl" x="58.95" y="589.20" text-anchor="end">0.05</text><line x1="66.50" y1="569.40" x2="302.80" y2="569.40" stroke="#c0c0c0" stroke-width="0.9"/><line x1="64.30" y1="569.40" x2="66.50" y2="569.40" stroke="#777" stroke-width="0.8"/><text class="bl" x="58.95" y="572.55" text-anchor="end">0.1</text><line x1="66.50" y1="552.75" x2="302.80" y2="552.75" stroke="#c0c0c0" stroke-width="0.9"/><line x1="64.30" y1="552.75" x2="66.50" y2="552.75" stroke="#777" stroke-width="0.8"/><text class="bl" x="58.95" y="555.90" text-anchor="end">0.15</text><line x1="66.50" y1="536.10" x2="302.80" y2="536.10" stroke="#c0c0c0" stroke-width="0.9"/><line x1="64.30" y1="536.10" x2="66.50" y2="536.10" stroke="#777" stroke-width="0.8"/><text class="bl" x="58.95" y="539.25" text-anchor="end">0.2</text><line x1="66.50" y1="519.45" x2="302.80" y2="519.45" stroke="#c0c0c0" stroke-width="0.9"/><line x1="64.30" y1="519.45" x2="66.50" y2="519.45" stroke="#777" stroke-width="0.8"/><text class="bl" x="58.95" y="522.60" text-anchor="end">0.25</text><line x1="66.50" y1="502.80" x2="302.80" y2="502.80" stroke="#8c8c8c" stroke-width="0.9"/><line x1="64.30" y1="502.80" x2="66.50" y2="502.80" stroke="#777" stroke-width="0.8"/><text class="bl" x="58.95" y="505.95" text-anchor="end">0.3</text><line x1="302.80" y1="502.80" x2="302.80" y2="602.70" stroke="#bdbdbd" stroke-width="0.8"/><line x1="145.40" y1="502.80" x2="145.40" y2="605.20" stroke="#9a9a9a" stroke-width="0.8"/><line x1="223.80" y1="502.80" x2="223.80" y2="605.20" stroke="#9a9a9a" stroke-width="0.8"/><line x1="66.50" y1="502.80" x2="66.50" y2="602.70" stroke="#777" stroke-width="0.9"/><line x1="66.50" y1="602.70" x2="302.80" y2="602.70" stroke="#777" stroke-width="0.9"/><line x1="66.50" y1="602.70" x2="66.50" y2="604.90" stroke="#888" stroke-width="0.8"/><line x1="105.88" y1="602.70" x2="105.88" y2="604.90" stroke="#888" stroke-width="0.8"/><line x1="145.27" y1="602.70" x2="145.27" y2="604.90" stroke="#888" stroke-width="0.8"/><line x1="184.65" y1="602.70" x2="184.65" y2="604.90" stroke="#888" stroke-width="0.8"/><line x1="224.03" y1="602.70" x2="224.03" y2="604.90" stroke="#888" stroke-width="0.8"/><line x1="263.42" y1="602.70" x2="263.42" y2="604.90" stroke="#888" stroke-width="0.8"/><line x1="302.80" y1="602.70" x2="302.80" y2="604.90" stroke="#888" stroke-width="0.8"/><rect x="77.99" y="579.20" width="16.40" height="23.50" fill="#000"/><path d="M86.19,579.20V574.60M83.29,574.60h5.8" stroke="#000" stroke-width="1.15" fill="none"/><text class="bl" x="73.39" y="619.80" textLength="25.0" lengthAdjust="spacingAndGlyphs">HSC-1</text><rect x="117.38" y="583.80" width="16.40" height="18.90" fill="#000"/><path d="M125.58,583.80V579.20M122.67,579.20h5.8" stroke="#000" stroke-width="1.15" fill="none"/><text class="bl" x="113.03" y="619.80" textLength="24.5" lengthAdjust="spacingAndGlyphs">ProB1</text><rect x="156.76" y="574.60" width="16.40" height="28.10" fill="#000"/><path d="M164.96,574.60V566.30M162.06,566.30h5.8" stroke="#000" stroke-width="1.15" fill="none"/><text class="bl" x="151.66" y="619.80" textLength="26.0" lengthAdjust="spacingAndGlyphs">HSC-2</text><rect x="196.14" y="597.40" width="16.40" height="5.30" fill="#000"/><path d="M204.34,597.40V596.40M201.44,596.40h5.8" stroke="#000" stroke-width="1.15" fill="none"/><text class="bl" x="189.79" y="619.80" textLength="28.5" lengthAdjust="spacingAndGlyphs">ProB-2</text><rect x="235.53" y="527.80" width="16.40" height="74.90" fill="#000"/><path d="M243.72,527.80V519.80M240.82,519.80h5.8" stroke="#000" stroke-width="1.15" fill="none"/><text class="bl" x="230.42" y="619.80" textLength="26.0" lengthAdjust="spacingAndGlyphs">HSC-3</text><rect x="274.91" y="598.90" width="16.40" height="3.80" fill="#000"/><path d="M283.11,598.90V596.80M280.21,596.80h5.8" stroke="#000" stroke-width="1.15" fill="none"/><text class="bl" x="268.36" y="619.80" textLength="28.9" lengthAdjust="spacingAndGlyphs">ProB-3</text><path d="M164.30,563.80V532.20H204.20V593.00" fill="none" stroke="#222" stroke-width="1.40" stroke-dasharray="3.2,2" stroke-linejoin="round"/><text class="st" x="184.60" y="532.60" text-anchor="middle">***</text><path d="M243.50,517.20V507.70H283.90V587.50" fill="none" stroke="#222" stroke-width="1.40" stroke-dasharray="3.2,2" stroke-linejoin="round"/><text class="st" x="263.50" y="521.80" text-anchor="middle">***</text><text class="bt" x="172.70" y="497.70" textLength="26.8" lengthAdjust="spacingAndGlyphs">rag2</text></g>
<g><line x1="64.20" y1="741.30" x2="66.40" y2="741.30" stroke="#777" stroke-width="0.8"/><text class="bl" x="58.95" y="744.80" text-anchor="end">0</text><line x1="66.40" y1="727.47" x2="302.80" y2="727.47" stroke="#c0c0c0" stroke-width="0.9"/><line x1="64.20" y1="727.47" x2="66.40" y2="727.47" stroke="#777" stroke-width="0.8"/><text class="bl" x="58.95" y="730.97" text-anchor="end">0.002</text><line x1="66.40" y1="713.64" x2="302.80" y2="713.64" stroke="#c0c0c0" stroke-width="0.9"/><line x1="64.20" y1="713.64" x2="66.40" y2="713.64" stroke="#777" stroke-width="0.8"/><text class="bl" x="58.95" y="717.14" text-anchor="end">0.004</text><line x1="66.40" y1="699.81" x2="302.80" y2="699.81" stroke="#c0c0c0" stroke-width="0.9"/><line x1="64.20" y1="699.81" x2="66.40" y2="699.81" stroke="#777" stroke-width="0.8"/><text class="bl" x="58.95" y="703.31" text-anchor="end">0.006</text><line x1="66.40" y1="685.99" x2="302.80" y2="685.99" stroke="#c0c0c0" stroke-width="0.9"/><line x1="64.20" y1="685.99" x2="66.40" y2="685.99" stroke="#777" stroke-width="0.8"/><text class="bl" x="58.95" y="689.49" text-anchor="end">0.008</text><line x1="66.40" y1="672.16" x2="302.80" y2="672.16" stroke="#c0c0c0" stroke-width="0.9"/><line x1="64.20" y1="672.16" x2="66.40" y2="672.16" stroke="#777" stroke-width="0.8"/><text class="bl" x="58.95" y="675.66" text-anchor="end">0.01</text><line x1="66.40" y1="658.33" x2="302.80" y2="658.33" stroke="#c0c0c0" stroke-width="0.9"/><line x1="64.20" y1="658.33" x2="66.40" y2="658.33" stroke="#777" stroke-width="0.8"/><text class="bl" x="58.95" y="661.83" text-anchor="end">0.012</text><line x1="66.40" y1="644.50" x2="302.80" y2="644.50" stroke="#8c8c8c" stroke-width="0.9"/><line x1="64.20" y1="644.50" x2="66.40" y2="644.50" stroke="#777" stroke-width="0.8"/><text class="bl" x="58.95" y="648.00" text-anchor="end">0.014</text><line x1="302.80" y1="644.50" x2="302.80" y2="741.30" stroke="#bdbdbd" stroke-width="0.8"/><line x1="145.40" y1="644.50" x2="145.40" y2="743.80" stroke="#9a9a9a" stroke-width="0.8"/><line x1="223.80" y1="644.50" x2="223.80" y2="743.80" stroke="#9a9a9a" stroke-width="0.8"/><line x1="66.40" y1="644.50" x2="66.40" y2="741.30" stroke="#777" stroke-width="0.9"/><line x1="66.40" y1="741.30" x2="302.80" y2="741.30" stroke="#777" stroke-width="0.9"/><line x1="66.40" y1="741.30" x2="66.40" y2="743.50" stroke="#888" stroke-width="0.8"/><line x1="105.80" y1="741.30" x2="105.80" y2="743.50" stroke="#888" stroke-width="0.8"/><line x1="145.20" y1="741.30" x2="145.20" y2="743.50" stroke="#888" stroke-width="0.8"/><line x1="184.60" y1="741.30" x2="184.60" y2="743.50" stroke="#888" stroke-width="0.8"/><line x1="224.00" y1="741.30" x2="224.00" y2="743.50" stroke="#888" stroke-width="0.8"/><line x1="263.40" y1="741.30" x2="263.40" y2="743.50" stroke="#888" stroke-width="0.8"/><line x1="302.80" y1="741.30" x2="302.80" y2="743.50" stroke="#888" stroke-width="0.8"/><rect x="77.90" y="733.40" width="16.40" height="7.90" fill="#000"/><path d="M86.10,733.40V732.80M83.20,732.80h5.8" stroke="#000" stroke-width="1.15" fill="none"/><text class="bl" x="73.30" y="758.50" textLength="25.0" lengthAdjust="spacingAndGlyphs">HSC-1</text><rect x="117.30" y="687.20" width="16.40" height="54.10" fill="#000"/><path d="M125.50,687.20V681.70M122.60,681.70h5.8" stroke="#000" stroke-width="1.15" fill="none"/><text class="bl" x="112.95" y="758.50" textLength="24.5" lengthAdjust="spacingAndGlyphs">ProB1</text><rect x="156.70" y="737.10" width="16.40" height="4.20" fill="#000"/><path d="M164.90,737.10V735.90M162.00,735.90h5.8" stroke="#000" stroke-width="1.15" fill="none"/><text class="bl" x="151.60" y="758.50" textLength="26.0" lengthAdjust="spacingAndGlyphs">HSC-2</text><rect x="196.10" y="697.70" width="16.40" height="43.60" fill="#000"/><path d="M204.30,697.70V687.20M201.40,687.20h5.8" stroke="#000" stroke-width="1.15" fill="none"/><text class="bl" x="189.75" y="758.50" textLength="28.5" lengthAdjust="spacingAndGlyphs">ProB-2</text><rect x="235.50" y="726.00" width="16.40" height="15.30" fill="#000"/><path d="M243.70,726.00V724.50M240.80,724.50h5.8" stroke="#000" stroke-width="1.15" fill="none"/><text class="bl" x="230.40" y="758.50" textLength="26.0" lengthAdjust="spacingAndGlyphs">HSC-3</text><rect x="274.90" y="660.80" width="16.40" height="80.50" fill="#000"/><path d="M283.10,660.80V650.90M280.20,650.90h5.8" stroke="#000" stroke-width="1.15" fill="none"/><text class="bl" x="268.35" y="758.50" textLength="28.9" lengthAdjust="spacingAndGlyphs">ProB-3</text><path d="M86.30,726.00V662.90H126.30V676.20" fill="none" stroke="#222" stroke-width="1.30" stroke-dasharray="3.2,2" stroke-linejoin="round"/><text class="st" x="105.70" y="660.80" text-anchor="middle">****</text><path d="M164.50,730.00V668.50H204.20V683.80" fill="none" stroke="#222" stroke-width="1.30" stroke-dasharray="3.2,2" stroke-linejoin="round"/><text class="st" x="184.80" y="669.40" text-anchor="middle">***</text><path d="M243.20,720.50V651.50H283.00V651.50" fill="none" stroke="#222" stroke-width="1.30" stroke-dasharray="3.2,2" stroke-linejoin="round"/><text class="st" x="261.10" y="673.10" text-anchor="middle">****</text><text class="bt" x="166.70" y="640.60" textLength="34.4" lengthAdjust="spacingAndGlyphs">kappa</text></g>
</svg></body></html>
